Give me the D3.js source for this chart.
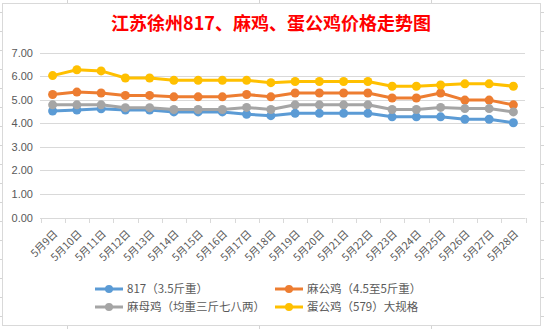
<!DOCTYPE html>
<html><head><meta charset="utf-8">
<script src="https://cdn.jsdelivr.net/npm/d3@7/dist/d3.min.js"></script>
<style>body{margin:0;background:#fff}svg{display:block}</style>
</head><body>
<script>
const categories = ["5月9日","5月10日","5月11日","5月12日","5月13日","5月14日","5月15日","5月16日","5月17日","5月18日","5月19日","5月20日","5月21日","5月22日","5月23日","5月24日","5月25日","5月26日","5月27日","5月28日"];
const seriesNames = ["817（3.5斤重）","麻公鸡（4.5至5斤重）","麻母鸡（均重三斤七八两）","蛋公鸡（579）大规格"];
const s817   = [4.52,4.56,4.61,4.56,4.56,4.48,4.48,4.48,4.38,4.32,4.42,4.42,4.42,4.42,4.27,4.27,4.27,4.17,4.17,4.02];
const sMaGong= [5.22,5.32,5.28,5.18,5.18,5.12,5.12,5.12,5.22,5.12,5.28,5.28,5.28,5.28,5.07,5.07,5.28,4.98,4.98,4.78];
const sMaMu  = [4.78,4.78,4.78,4.66,4.66,4.58,4.58,4.58,4.67,4.58,4.78,4.78,4.78,4.78,4.58,4.58,4.67,4.62,4.62,4.48];
const sDanGong=[6.02,6.27,6.22,5.92,5.92,5.82,5.82,5.82,5.82,5.72,5.77,5.77,5.77,5.77,5.57,5.57,5.62,5.67,5.67,5.57];
const yTicks = [0,1,2,3,4,5,6,7];
const colors = ["#5B9BD5","#ED7D31","#A5A5A5","#FFC000"];
const allSeries = [s817, sMaGong, sMaMu, sDanGong];

const W=544,H=329;
const svg=d3.select("body").append("svg").attr("width",W).attr("height",H);

// sheet gridlines outside the chart
const sg=svg.append("g").attr("stroke","#d4d4d4").attr("stroke-width",1);
[67.5,259.5,431.5].forEach(x=>{sg.append("line").attr("x1",x).attr("x2",x).attr("y1",0).attr("y2",3);sg.append("line").attr("x1",x).attr("x2",x).attr("y1",326).attr("y2",329);});
for(let k=0;k<17;k++){const y=Math.round(11.7+19*k)+0.5;sg.append("line").attr("x1",0).attr("x2",2).attr("y1",y).attr("y2",y);sg.append("line").attr("x1",541).attr("x2",544).attr("y1",y).attr("y2",y);}

// chart area
svg.append("rect").attr("x",2.5).attr("y",3.5).attr("width",538).attr("height",322).attr("fill","#fff").attr("stroke","#d9d9d9");

svg.append("text").attr("x",271).attr("y",30).attr("text-anchor","middle")
  .attr("font-family","'Noto Sans CJK SC',sans-serif").attr("font-weight","bold").attr("font-size",18).attr("fill","#FF0000")
  .text("江苏徐州817、麻鸡、蛋公鸡价格走势图");

const x=d3.scaleBand().domain(categories).range([40.5,525.5]);
const y=d3.scaleLinear().domain([0,7]).range([217.5,52.5]);

// gridlines
svg.append("g").selectAll("line").data(yTicks.slice(1)).join("line")
  .attr("x1",40).attr("x2",525).attr("y1",d=>Math.round(y(d))+0.5).attr("y2",d=>Math.round(y(d))+0.5)
  .attr("stroke","#d9d9d9");

// y axis labels
const yAxis=d3.axisLeft(y).tickValues(yTicks).tickSize(0).tickPadding(0).tickFormat(d3.format(".2f"));
const ya=svg.append("g").attr("transform","translate(33,0)").call(yAxis);
ya.select(".domain").remove();
ya.selectAll("text").attr("font-family","'Liberation Sans',Arial,sans-serif").attr("font-size",11).attr("fill","#595959");

// x axis
const xa=svg.append("g").attr("transform","translate(0,218)");
xa.append("line").attr("x1",40).attr("x2",525.5).attr("y1",0.5).attr("y2",0.5).attr("stroke","#d9d9d9");
const bounds=categories.map(c=>x(c)).concat([x.range()[1]]);
xa.selectAll("line.t").data(bounds).join("line").attr("class","t")
  .attr("x1",d=>Math.round(d)+0.5).attr("x2",d=>Math.round(d)+0.5).attr("y1",0).attr("y2",5).attr("stroke","#d9d9d9");
xa.selectAll("text").data(categories).join("text")
  .attr("transform",d=>`translate(${x(d)+x.bandwidth()/2+3},14) rotate(-45)`)
  .attr("text-anchor","end").attr("dy","0.35em")
  .attr("font-family","'Noto Sans CJK SC',sans-serif").attr("font-size",10.5).attr("fill","#595959")
  .text(d=>d);

// lines
const line=d3.line().x((d,i)=>x(categories[i])+x.bandwidth()/2).y(d=>y(d));
allSeries.forEach((s,k)=>{
  const g=svg.append("g");
  g.append("path").datum(s).attr("d",line).attr("fill","none").attr("stroke",colors[k]).attr("stroke-width",3).attr("stroke-linejoin","round");
  g.selectAll("circle").data(s).join("circle").attr("cx",(d,i)=>x(categories[i])+x.bandwidth()/2).attr("cy",d=>y(d)).attr("r",4.5).attr("fill",colors[k]);
});

// legend
const legPos=[[95,289],[275,289],[95,307],[275,307]];
seriesNames.forEach((n,k)=>{
  const [lx,ly]=legPos[k];
  const g=svg.append("g");
  g.append("line").attr("x1",lx).attr("x2",lx+28).attr("y1",ly).attr("y2",ly).attr("stroke",colors[k]).attr("stroke-width",3);
  g.append("circle").attr("cx",lx+14).attr("cy",ly).attr("r",4).attr("fill",colors[k]);
  g.append("text").attr("x",lx+32).attr("y",ly).attr("dy","0.35em")
   .attr("font-family","'Noto Sans CJK SC',sans-serif").attr("font-size",11.5).attr("fill","#595959").text(n);
});
</script>
</body></html>
